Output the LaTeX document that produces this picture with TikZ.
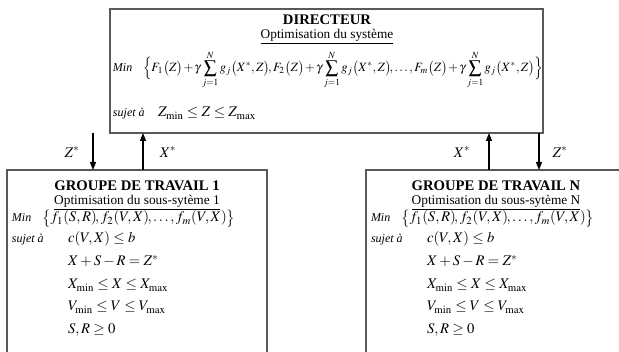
\documentclass[tikz,border=0pt]{standalone}
\usepackage{mathptmx}
\usepackage{fontspec}
\setmainfont{Liberation Serif}
\usetikzlibrary{positioning,calc,arrows.meta}

\begin{document}
\begin{tikzpicture}[x=0.75pt,y=-0.75pt,>={Triangle[length=6pt,width=4.5pt]},
  every node/.style={inner sep=0pt,outer sep=0pt},
  cadre/.style={draw=black!65,line width=1pt},
  titre/.style={anchor=base,font=\bfseries\fontsize{11}{13}\selectfont},
  sous/.style={anchor=base,font=\fontsize{10}{12}\selectfont},
  lbl/.style={anchor=base west,font=\itshape\fontsize{9}{11}\selectfont},
  eq/.style={anchor=base west,font=\fontsize{11}{13}\selectfont}]
\useasboundingbox (0,0) rectangle (619,352);

\node[cadre,minimum width=324.75pt,minimum height=93pt] (dir) at (326.5,71) {};
\node[titre] (dir-ti) at (327,25) {DIRECTEUR};
\node[sous] (dir-so) at (327,39) {\underline{Optimisation du système}};
\node[lbl] (dir-min) at (113,72) {Min};
\node[eq,font=\fontsize{9.5}{11}\selectfont] (dir-f) at (143,72) {\medmuskip=1.5mu\thickmuskip=3mu$\displaystyle\Bigl\{F_1\bigl(Z\bigr)+\gamma\sum_{j=1}^{N}g_j\bigl(X^*,Z\bigr)\!,F_2\bigl(Z\bigr)+\gamma\sum_{j=1}^{N}g_j\bigl(X^*,Z\bigr)\!,\ldots,F_m\bigl(Z\bigr)+\gamma\sum_{j=1}^{N}g_j\bigl(X^*,Z\bigr)\Bigr\}$};
\node[lbl] (dir-sj) at (113,117) {sujet à};
\node[eq] (dir-c) at (158,117) {$Z_{\mathrm{min}}\le Z\le Z_{\mathrm{max}}$};

\foreach \g/\dx/\n in {gt1/0/1,gtn/359/N}{
  \node[cadre,minimum width=195pt,minimum height=142.5pt] (\g) at (137+\dx,265) {};
  \node[titre] (\g-ti) at (137+\dx,191) {GROUPE DE TRAVAIL \n};
  \node[sous] (\g-so) at (137+\dx,205) {\underline{Optimisation du sous-sytème \n}};
  \node[lbl] (\g-min) at (12+\dx,222) {Min};
  \node[eq] (\g-f) at (42+\dx,222) {$\bigl\{f_1(S,R)\!,f_2(V,X)\!,\ldots,f_m(V,X)\bigr\}$};
  \node[lbl] (\g-sj) at (12+\dx,243) {sujet à};
  \node[eq] (\g-c1) at (68+\dx,243) {$c(V,X)\le b$};
  \node[eq] (\g-c2) at (68+\dx,266) {$X+S-R=Z^*$};
  \node[eq] (\g-c3) at (68+\dx,289) {$X_{\mathrm{min}}\le X\le X_{\mathrm{max}}$};
  \node[eq] (\g-c4) at (68+\dx,311) {$V_{\mathrm{min}}\le V\le V_{\mathrm{max}}$};
  \node[eq] (\g-c5) at (68+\dx,334) {$S,R\ge 0$};
}

\coordinate (a1) at (93,0);
\coordinate (a2) at (143,0);
\coordinate (a3) at (489,0);
\coordinate (a4) at (539,0);
\draw[->,line width=0.8pt] (dir.south -| a1) -- (gt1.north -| a1);
\draw[->,line width=0.8pt] (gt1.north -| a2) -- (dir.south -| a2);
\draw[->,line width=0.8pt] (gtn.north -| a3) -- (dir.south -| a3);
\draw[->,line width=0.8pt] (dir.south -| a4) -- (gtn.north -| a4);

\node[font=\fontsize{11}{13}\selectfont] (z1) at (72,152) {$Z^*$};
\node[font=\fontsize{11}{13}\selectfont] (x1) at (168,152) {$X^*$};
\node[font=\fontsize{11}{13}\selectfont] (xn) at (462,152) {$X^*$};
\node[font=\fontsize{11}{13}\selectfont] (zn) at (560,152) {$Z^*$};
\end{tikzpicture}
\end{document}
